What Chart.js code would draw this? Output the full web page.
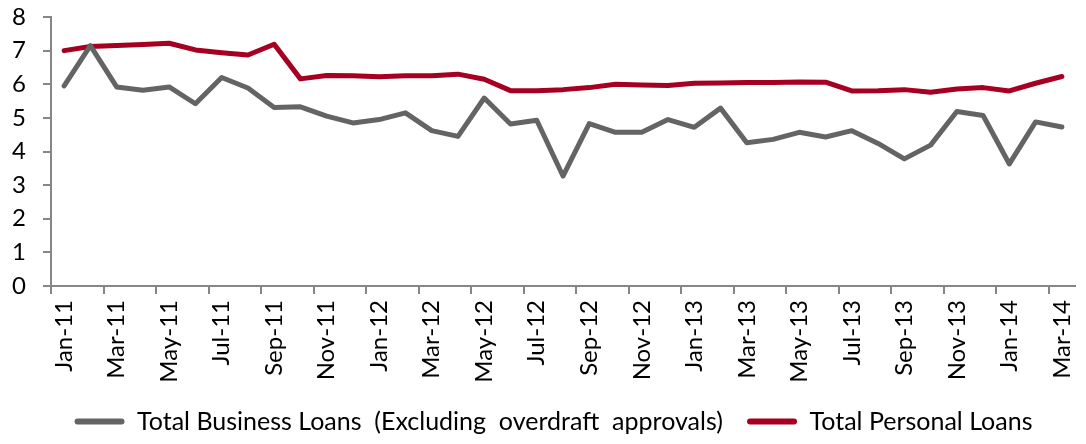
<!DOCTYPE html>
<html>
<head>
<meta charset="utf-8">
<script src="https://cdn.jsdelivr.net/npm/chart.js@4/dist/chart.umd.min.js"></script>
<style>
  html, body { margin: 0; padding: 0; background: #fff; }
  #wrap { width: 1086px; height: 444px; position: relative; }
</style>
</head>
<body>
<div id="wrap"><canvas id="loan-chart"></canvas></div>
<script>
// monthly, Jan-11 .. Mar-14
const months = [
  'Jan-11','Feb-11','Mar-11','Apr-11','May-11','Jun-11','Jul-11','Aug-11','Sep-11','Oct-11','Nov-11','Dec-11',
  'Jan-12','Feb-12','Mar-12','Apr-12','May-12','Jun-12','Jul-12','Aug-12','Sep-12','Oct-12','Nov-12','Dec-12',
  'Jan-13','Feb-13','Mar-13','Apr-13','May-13','Jun-13','Jul-13','Aug-13','Sep-13','Oct-13','Nov-13','Dec-13',
  'Jan-14','Feb-14','Mar-14'
];

const businessLoans = [
  5.95, 7.15, 5.92, 5.82, 5.92, 5.42, 6.20, 5.89, 5.31, 5.33, 5.05, 4.85,
  4.95, 5.15, 4.62, 4.45, 5.59, 4.82, 4.93, 3.27, 4.83, 4.57, 4.57, 4.95,
  4.72, 5.29, 4.26, 4.36, 4.57, 4.43, 4.62, 4.24, 3.78, 4.19, 5.19, 5.07,
  3.63, 4.88, 4.73
];

const personalLoans = [
  7.00, 7.12, 7.15, 7.18, 7.22, 7.02, 6.94, 6.87, 7.19, 6.16, 6.26, 6.25,
  6.22, 6.25, 6.25, 6.30, 6.15, 5.81, 5.81, 5.84, 5.90, 6.00, 5.98, 5.96,
  6.03, 6.04, 6.05, 6.05, 6.07, 6.06, 5.80, 5.81, 5.84, 5.76, 5.86, 5.90,
  5.80, 6.03, 6.23
];

const yTicks = [0, 1, 2, 3, 4, 5, 6, 7, 8];

const grey = '#646464';
const red = '#A50021';
const axisGrey = '#868686';
const fontFamily = 'Lato, "Open Sans", sans-serif';

// the original legend sits a bit right of the canvas centre
const nudgeLegend = {
  id: 'nudgeLegend',
  afterLayout(chart) {
    chart.legend.left += 16;
    chart.legend.right += 16;
  }
};

const ctx = document.getElementById('loan-chart').getContext('2d');

new Chart(ctx, {
  type: 'line',
  data: {
    labels: months,
    datasets: [{
      label: 'Total Business Loans  (Excluding  overdraft  approvals)',
      data: businessLoans,
      borderColor: grey,
      backgroundColor: grey,
      borderWidth: 5,
      pointRadius: 0,
      tension: 0,
      borderCapStyle: 'round',
      borderJoinStyle: 'round'
    }, {
      label: 'Total Personal Loans',
      data: personalLoans,
      borderColor: red,
      backgroundColor: red,
      borderWidth: 5,
      pointRadius: 0,
      tension: 0,
      borderCapStyle: 'round',
      borderJoinStyle: 'round'
    }]
  },
  plugins: [nudgeLegend],
  options: {
    responsive: true,
    maintainAspectRatio: false,
    animation: false,
    layout: { padding: { top: 17, right: 11, left: 0, bottom: 0 } },
    plugins: {
      tooltip: { enabled: false },
      legend: {
        position: 'bottom',
        labels: {
          color: '#000',
          font: { family: fontFamily, size: 25 },
          boxWidth: 50,
          boxHeight: 6,
          padding: 5,
          generateLabels(chart) {
            const items = Chart.defaults.plugins.legend.labels.generateLabels(chart);
            items.forEach((it, i) => {
              it.lineWidth = 0;
              it.borderRadius = 3;
              // extra room between the two entries
              if (i === 0) it.text = it.text + '   ';
            });
            return items;
          }
        }
      }
    },
    scales: {
      x: {
        offset: true,
        grid: {
          offset: true,
          drawOnChartArea: false,
          drawTicks: true,
          tickLength: 8,
          lineWidth: 2,
          color: (c) => (c.index % 2 === 0 ? axisGrey : 'rgba(0,0,0,0)')
        },
        border: { color: axisGrey, width: 2 },
        ticks: {
          autoSkip: false,
          maxRotation: 90,
          minRotation: 90,
          padding: 6,
          color: '#000',
          font: { family: fontFamily, size: 24 },
          callback: function (val, i) { return i % 2 === 0 ? this.getLabelForValue(val) : ''; }
        },
        afterFit: (axis) => {
          axis.height = 118;
          axis.paddingLeft = 0;
          axis.paddingRight = 0;
        }
      },
      y: {
        min: 0,
        max: 8,
        afterBuildTicks: (axis) => { axis.ticks = yTicks.map(v => ({ value: v })); },
        grid: {
          drawOnChartArea: false,
          drawTicks: true,
          tickLength: 8,
          lineWidth: 2,
          color: axisGrey
        },
        border: { color: axisGrey, width: 2 },
        ticks: {
          autoSkip: false,
          padding: 17,
          color: '#000',
          font: { family: fontFamily, size: 24 }
        },
        afterFit: (axis) => {
          axis.width = 51;
          axis.paddingTop = 0;
          axis.paddingBottom = 0;
        }
      }
    }
  }
});
</script>
</body>
</html>
